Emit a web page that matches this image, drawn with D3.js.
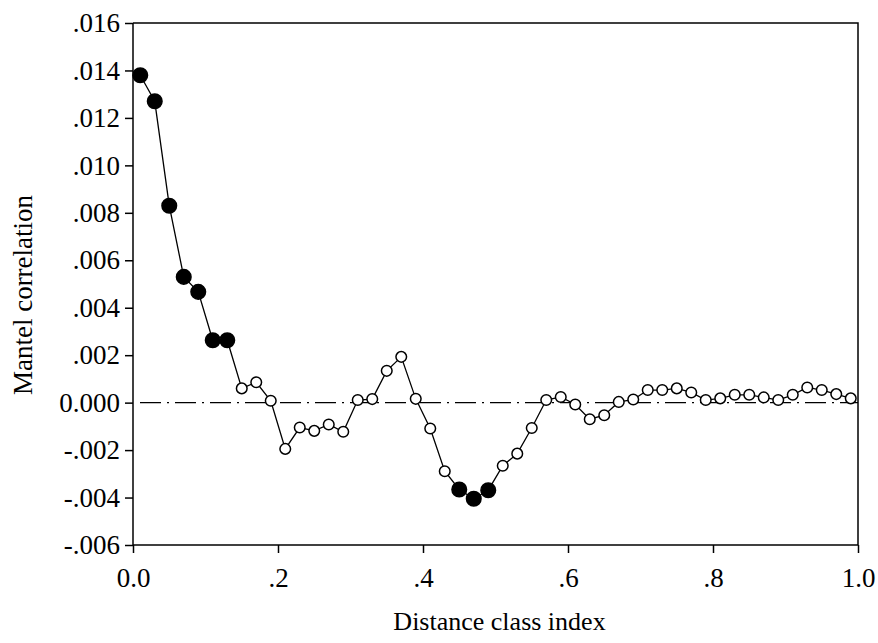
<!DOCTYPE html>
<html>
<head>
<meta charset="utf-8">
<script src="https://cdn.jsdelivr.net/npm/d3@7"></script>
<style>
    body { margin: 0; background: #fff; }
    svg text { font-family: "Liberation Serif", "Times New Roman", serif; fill: #000; }
</style>
</head>
<body>
<svg id="chart" width="878" height="643"></svg>
<script>
// distance classes (x) and Mantel correlation (y)
const classIndex = [0.01, 0.03, 0.05, 0.07, 0.09, 0.11, 0.13, 0.15, 0.17, 0.19,
    0.21, 0.23, 0.25, 0.27, 0.29, 0.31, 0.33, 0.35, 0.37, 0.39,
    0.41, 0.43, 0.45, 0.47, 0.49, 0.51, 0.53, 0.55, 0.57, 0.59,
    0.61, 0.63, 0.65, 0.67, 0.69, 0.71, 0.73, 0.75, 0.77, 0.79,
    0.81, 0.83, 0.85, 0.87, 0.89, 0.91, 0.93, 0.95, 0.97, 0.99];

const mantel = [0.0138, 0.0127, 0.0083, 0.0053, 0.00467, 0.00263, 0.00263, 0.0006, 0.00086, 0.00008,
    -0.00195, -0.00105, -0.00119, -0.00092, -0.00123, 0.00011, 0.00015, 0.00134, 0.00193, 0.00016,
    -0.00109, -0.00289, -0.00366, -0.00405, -0.00369, -0.00266, -0.00215, -0.00107, 0.00011, 0.00024,
    -0.00008, -0.0007, -0.00053, 0.00003, 0.00013, 0.00053, 0.00053, 0.0006, 0.00043, 0.00011,
    0.00018, 0.00033, 0.00033, 0.00022, 0.00011, 0.00033, 0.00064, 0.00053, 0.00036, 0.00018];

// true = significant (filled marker)
const significant = [true, true, true, true, true, true, true, false, false, false,
    false, false, false, false, false, false, false, false, false, false,
    false, false, true, true, true, false, false, false, false, false,
    false, false, false, false, false, false, false, false, false, false,
    false, false, false, false, false, false, false, false, false, false];

const xTicks = [0, 0.2, 0.4, 0.6, 0.8, 1.0];
const xTickLabels = ['0.0', '.2', '.4', '.6', '.8', '1.0'];
const yTicks = [0.016, 0.014, 0.012, 0.010, 0.008, 0.006, 0.004, 0.002, 0, -0.002, -0.004, -0.006];
const yTickLabels = ['.016', '.014', '.012', '.010', '.008', '.006', '.004', '.002', '0.000', '-.002', '-.004', '-.006'];

const plot = { left: 133, right: 858, top: 23, bottom: 545 };

let svg = d3.select('#chart');

let x = d3.scaleLinear().domain([0, 1]).range([plot.left, plot.right]);
let y = d3.scaleLinear().domain([-0.006, 0.016]).range([plot.bottom, plot.top]);

let points = classIndex.map((c, i) => ({ x: c, y: mantel[i], sig: significant[i] }));

// zero reference line (dash-dot)
svg.append('line')
    .attr('x1', plot.left + 7).attr('x2', plot.right)
    .attr('y1', y(0)).attr('y2', y(0))
    .attr('stroke', '#000')
    .attr('stroke-width', 1.3)
    .attr('stroke-dasharray', '21,6,2,6');

// frame: top and right lines
svg.append('path')
    .attr('d', `M${plot.left},${plot.top}H${plot.right}V${plot.bottom}`)
    .attr('fill', 'none')
    .attr('stroke', '#000')
    .attr('stroke-width', 1.5);

// axes
let xAxis = svg.append('g')
    .attr('transform', `translate(0,${plot.bottom})`)
    .call(d3.axisBottom(x).tickValues(xTicks).tickSize(8).tickPadding(15)
        .tickFormat((d, i) => xTickLabels[i]));

let yAxis = svg.append('g')
    .attr('transform', `translate(${plot.left},0)`)
    .call(d3.axisLeft(y).tickValues(yTicks).tickSize(8).tickPadding(5)
        .tickFormat((d, i) => yTickLabels[i]));

for (let ax of [xAxis, yAxis]) {
    ax.attr('font-family', null).attr('font-size', null);
    ax.select('.domain').attr('stroke-width', 1.5);
    ax.selectAll('.tick line').attr('stroke-width', 1.5);
    ax.selectAll('.tick text').style('font-size', '27px');
}
// domain lines without end caps
xAxis.select('.domain').attr('d', `M${plot.left},0H${plot.right}`);
yAxis.select('.domain').attr('d', `M0,${plot.top}V${plot.bottom}`);

// series line
let line = d3.line().x(d => x(d.x)).y(d => y(d.y));
svg.append('path')
    .datum(points)
    .attr('d', line)
    .attr('fill', 'none')
    .attr('stroke', '#000')
    .attr('stroke-width', 1.3);

// markers
svg.selectAll('.marker')
    .data(points)
    .enter()
    .append('circle')
    .attr('class', 'marker')
    .attr('cx', d => x(d.x))
    .attr('cy', d => y(d.y))
    .attr('r', d => d.sig ? 7.3 : 5.3)
    .attr('fill', d => d.sig ? '#000' : '#fff')
    .attr('stroke', '#000')
    .attr('stroke-width', 1.5);

// axis titles
svg.append('text')
    .attr('x', (plot.left + plot.right) / 2 + 4)
    .attr('y', 630)
    .attr('text-anchor', 'middle')
    .style('font-size', '26px')
    .text('Distance class index');

svg.append('text')
    .attr('transform', `translate(32,295) rotate(-90)`)
    .attr('text-anchor', 'middle')
    .style('font-size', '27px')
    .text('Mantel correlation');
</script>
</body>
</html>
